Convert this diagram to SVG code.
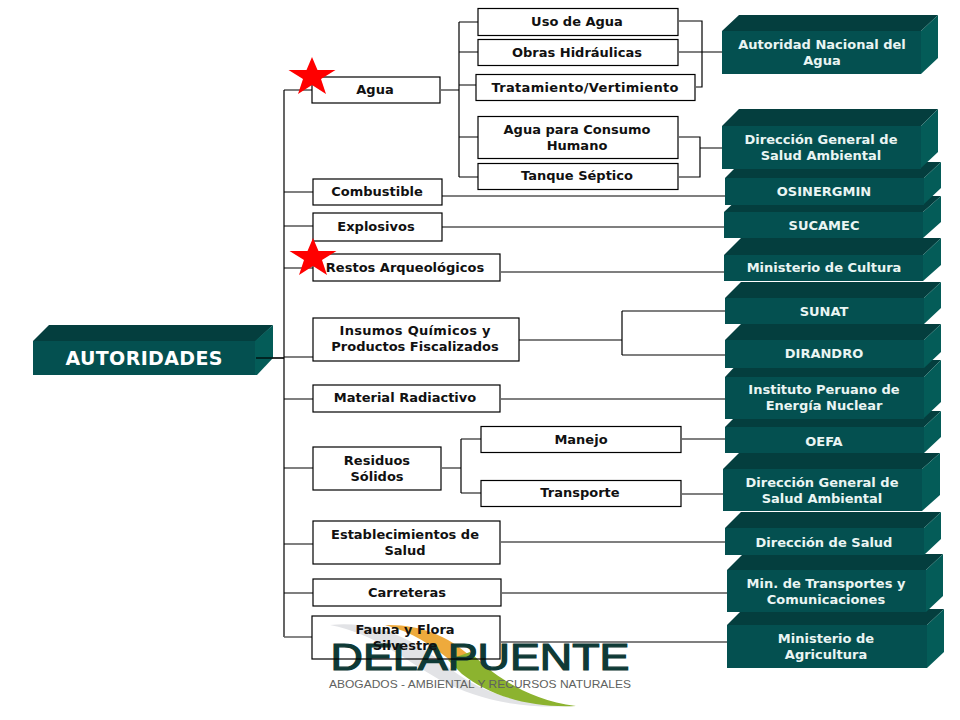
<svg xmlns="http://www.w3.org/2000/svg" width="960" height="720" viewBox="0 0 960 720">
<style>
text{font-family:"DejaVu Sans",Verdana,sans-serif;font-weight:700;text-anchor:middle;font-size:13px}
.b rect{fill:none;stroke:#000;stroke-width:1.2}
.b text{fill:#111}
.g text{fill:#eaf5f3}
.t{fill:#043e3e}.f{fill:#045050}.s{fill:#045c58}
#connectors path{fill:none;stroke:#000;stroke-width:1.2}
#connectors path.h{stroke:#666;stroke-width:1.6}
.star{fill:#f00}
</style>
<rect width="960" height="720" fill="#fff"/>
<g id="logo">
<path d="M330 625C385 620 420 645 452 670C482 693 520 705 574 706C520 709 478 700 440 680C402 658 375 634 330 625Z" fill="#e2e3e6"/>
<path d="M385 625C420 624 448 636 470 656L452 662C432 645 412 632 385 625Z" fill="#eeaa3c"/>
<path d="M470 652C490 672 525 700 576 706C530 708 490 696 462 674L448 660Z" fill="#8cb32f"/>
<text x="480" y="670" style="font-family:'Liberation Sans',sans-serif;font-weight:400;font-size:37px;fill:#0e3a36;stroke:#0e3a36;stroke-width:1.2" textLength="299" lengthAdjust="spacingAndGlyphs">DELAPUENTE</text>
<text x="480" y="688" style="font-family:'Liberation Sans',sans-serif;font-weight:400;font-size:11.500px;fill:#5f6260" textLength="302" lengthAdjust="spacingAndGlyphs">ABOGADOS - AMBIENTAL Y RECURSOS NATURALES</text>
</g>
<g id="connectors">
<path d="M284 90V637M256 358H284M284 90H312M284 192H313M284 226H313M284 268H313M284 357H313M284 399H313M284 468H313M284 544H313M284 593H313"/>
<path class="h" d="M284 637H312"/>
<path d="M441 90H459M459 22V177M459 22H478M459 52H478M459 85H476M459 137H478M459 177H478"/>
<path d="M679 21H702V87H696M679 52H722"/>
<path d="M679 137H700V177H679M700 148H722"/>
<path d="M442 196H725M442 227H724M501 272H724"/>
<path d="M519 340H622M622 311V355M622 311H725M622 355H725"/>
<path d="M501 399H725"/>
<path d="M442 468H461M461 439V493M461 439H481M461 493H481"/>
<path d="M682 439H725M682 494H723M501 542H725M502 593H727M501 642H727"/>
</g>
<g id="autoridades" class="g">
<polygon class="t" points="33,341 49,325 273,325 256,341"/><rect class="f" x="33" y="341" width="223" height="34"/><polygon class="s" points="255,341 273,325 273,358 257,375 255,375"/>
<text x="144" y="365" style="font-size:19px;fill:#fff" textLength="157">AUTORIDADES</text>
</g>
<path d="M256 358H284" fill="none" stroke="#000" stroke-width="1.2"/>
<g id="agua" class="b"><rect x="312" y="77" width="128" height="26"/><text x="375" y="94">Agua</text></g>
<g id="combustible" class="b"><rect x="313" y="179" width="129" height="26"/><text x="377" y="196">Combustible</text></g>
<g id="explosivos" class="b"><rect x="313" y="213" width="129" height="28"/><text x="376" y="231">Explosivos</text></g>
<g id="restos" class="b"><rect x="313" y="254" width="187" height="27"/><text x="405" y="272">Restos Arqueológicos</text></g>
<g id="insumos" class="b"><rect x="313" y="318" width="206" height="43"/><text x="415" y="335" textLength="151">Insumos Químicos y</text><text x="415" y="351">Productos Fiscalizados</text></g>
<g id="radiactivo" class="b"><rect x="313" y="385" width="187" height="27"/><text x="405" y="402">Material Radiactivo</text></g>
<g id="residuos" class="b"><rect x="313" y="447" width="128" height="43"/><text x="377" y="465">Residuos</text><text x="377" y="481">Sólidos</text></g>
<g id="establecimientos" class="b"><rect x="313" y="521" width="187" height="43"/><text x="405" y="539">Establecimientos de</text><text x="405" y="555">Salud</text></g>
<g id="carreteras" class="b"><rect x="313" y="579" width="188" height="27"/><text x="407" y="597">Carreteras</text></g>
<g id="fauna" class="b"><rect x="312" y="616" width="188" height="43"/><text x="405" y="634">Fauna y Flora</text><text x="405" y="650">Silvestre</text></g>
<g id="uso" class="b"><rect x="478" y="8.500" width="200" height="27"/><text x="577" y="26">Uso de Agua</text></g>
<g id="obras" class="b"><rect x="478" y="39.500" width="200" height="26"/><text x="577" y="57">Obras Hidráulicas</text></g>
<g id="tratamiento" class="b"><rect x="476" y="74.500" width="219" height="26"/><text x="585" y="92" textLength="187">Tratamiento/Vertimiento</text></g>
<g id="consumo" class="b"><rect x="478" y="116.500" width="200" height="42"/><text x="577" y="134">Agua para Consumo</text><text x="577" y="150">Humano</text></g>
<g id="tanque" class="b"><rect x="478" y="163.500" width="200" height="26"/><text x="577" y="180">Tanque Séptico</text></g>
<g id="manejo" class="b"><rect x="481" y="426.500" width="200" height="26"/><text x="581" y="444">Manejo</text></g>
<g id="transporte" class="b"><rect x="481" y="480.500" width="200" height="26"/><text x="580" y="497">Transporte</text></g>
<g id="minagri" class="g"><polygon class="t" points="727,625 743,609 944,609 927,625"/><rect class="f" x="727" y="625" width="200" height="43"/><polygon class="s" points="927,625 944,609 944,652 927,668"/><text x="826" y="643">Ministerio de</text><text x="826" y="659">Agricultura</text></g>
<g id="mtc" class="g"><polygon class="t" points="727,570 743,554 943,554 926,570"/><rect class="f" x="727" y="570" width="199" height="42"/><polygon class="s" points="926,570 943,554 943,596 926,612"/><text x="826" y="588">Min. de Transportes y</text><text x="826" y="604">Comunicaciones</text></g>
<g id="diresa" class="g"><polygon class="t" points="725,528 741,512 941,512 924,528"/><rect class="f" x="725" y="528" width="199" height="27"/><polygon class="s" points="924,528 941,512 941,539 924,555"/><text x="824" y="547">Dirección de Salud</text></g>
<g id="digesa2" class="g"><polygon class="t" points="723,469 739,453 940,453 922,469"/><rect class="f" x="723" y="469" width="199" height="42"/><polygon class="s" points="922,469 940,453 940,495 922,511"/><text x="822" y="487">Dirección General de</text><text x="822" y="503">Salud Ambiental</text></g>
<g id="oefa" class="g"><polygon class="t" points="725,427 741,411 941,411 924,427"/><rect class="f" x="725" y="427" width="199" height="26"/><polygon class="s" points="924,427 941,411 941,437 924,453"/><text x="824" y="446">OEFA</text></g>
<g id="ipen" class="g"><polygon class="t" points="725,377 741,360 941,360 924,377"/><rect class="f" x="725" y="377" width="199" height="42"/><polygon class="s" points="924,377 941,360 941,402 924,418"/><text x="824" y="394">Instituto Peruano de</text><text x="824" y="410">Energía Nuclear</text></g>
<g id="dirandro" class="g"><polygon class="t" points="725,340 741,324 941,324 924,340"/><rect class="f" x="725" y="340" width="199" height="28"/><polygon class="s" points="924,340 941,324 941,352 924,368"/><text x="824" y="358">DIRANDRO</text></g>
<g id="sunat" class="g"><polygon class="t" points="725,298 741,282 941,282 924,298"/><rect class="f" x="725" y="298" width="199" height="26"/><polygon class="s" points="924,298 941,282 941,308 924,324"/><text x="824" y="316">SUNAT</text></g>
<g id="cultura" class="g"><polygon class="t" points="724,255 741,238 941,238 923,255"/><rect class="f" x="724" y="255" width="199" height="26"/><polygon class="s" points="923,255 941,238 941,265 923,281"/><text x="824" y="272">Ministerio de Cultura</text></g>
<g id="sucamec" class="g"><polygon class="t" points="724,212 741,196 941,196 923,212"/><rect class="f" x="724" y="212" width="199" height="26"/><polygon class="s" points="923,212 941,196 941,222 923,238"/><text x="824" y="230">SUCAMEC</text></g>
<g id="osinergmin" class="g"><polygon class="t" points="725,178 741,162 941,162 924,178"/><rect class="f" x="725" y="178" width="199" height="27"/><polygon class="s" points="924,178 941,162 941,188 924,204"/><text x="824" y="196">OSINERGMIN</text></g>
<g id="digesa1" class="g"><polygon class="t" points="722,126 739,109 938,109 921,126"/><rect class="f" x="722" y="126" width="199" height="43"/><polygon class="s" points="921,126 938,109 938,152 921,168"/><text x="821" y="144">Dirección General de</text><text x="821" y="160">Salud Ambiental</text></g>
<g id="ana" class="g"><polygon class="t" points="722,31 739,15 938,15 921,31"/><rect class="f" x="722" y="31" width="199" height="43"/><polygon class="s" points="921,31 938,15 938,58 921,74"/><text x="822" y="49">Autoridad Nacional del</text><text x="822" y="65">Agua</text></g>
<g id="stars">
<polygon class="star" points="312,57 317.500,70 335.500,70 321,79 326,94 312,85 298,94 303,79 288.500,70 306.500,70"/>
<polygon class="star" points="313,238 318.500,251 336.500,251 322,260 327,275 313,266 299,275 304,260 289.500,251 307.500,251"/>
</g>
</svg>
